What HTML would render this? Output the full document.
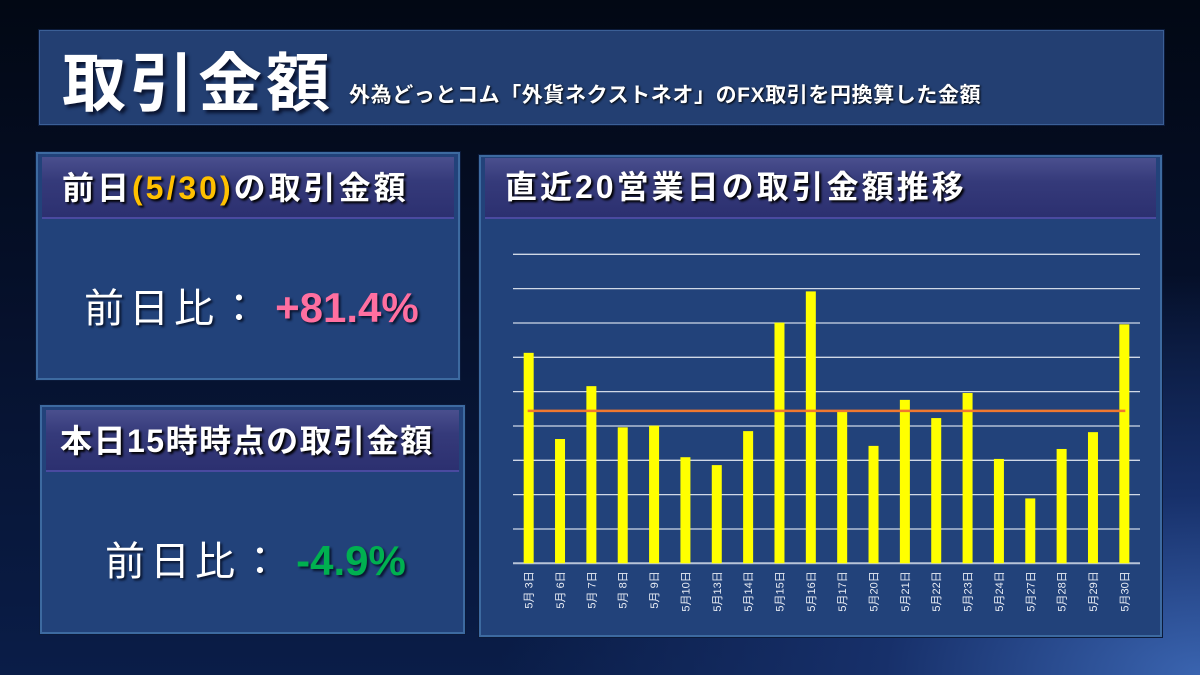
<!DOCTYPE html>
<html><head><meta charset="utf-8">
<style>
*{margin:0;padding:0;box-sizing:border-box}
body{width:1200px;height:675px;overflow:hidden;position:relative;font-family:"Liberation Sans","Noto Sans CJK JP",sans-serif;
background:radial-gradient(ellipse 700px 400px at 1200px 675px,#3a64b0 0%,#17306a 45%,rgba(5,15,40,0) 100%),linear-gradient(180deg,#020814 0%,#050f28 40%,#0a1d48 100%);}
.box{position:absolute;background:#22427a;border:2px solid #3d6aa0;box-shadow:0 0 0 1px #0b1a3a}
.hdr{position:absolute;left:4px;right:4px;top:3px;height:62px;background:linear-gradient(180deg,#4a4f8e 0%,#353a7a 40%,#2c3070 100%);border-bottom:2px solid #4a4aa0;color:#fff;font-weight:bold;text-shadow:2px 2px 2px #000;font-size:32px;line-height:62px;padding-left:20px;white-space:nowrap}
.val{position:absolute;color:#fff;font-size:40px;white-space:nowrap;text-shadow:2px 2px 2px #0a1630}
.lbl{letter-spacing:5px}
</style></head><body>
<div class="box" style="left:39px;top:30px;width:1125px;height:95px;background:#233f72;border:1px solid #3b5f96">
  <span style="position:absolute;left:22px;top:2px;font-size:64px;font-weight:bold;color:#fff;text-shadow:3px 3px 3px #0a1430;letter-spacing:4px">取引金額</span>
  <span style="position:absolute;left:309px;top:48px;font-size:21px;font-weight:bold;color:#fff;letter-spacing:0.6px;white-space:nowrap;text-shadow:1px 1px 2px #000">外為どっとコム「外貨ネクストネオ」のFX取引を円換算した金額</span>
</div>
<div class="box" style="left:36px;top:152px;width:424px;height:228px">
  <div class="hdr" style="letter-spacing:3px">前日<span style="color:#ffc000">(5/30)</span>の取引金額</div>
  <div class="val" style="left:46px;top:122px"><span class="lbl">前日比：</span> <b style="color:#ff6fa0;font-size:42px">+81.4%</b></div>
</div>
<div class="box" style="left:40px;top:405px;width:425px;height:229px">
  <div class="hdr" style="padding-left:14px;letter-spacing:1.5px">本日15時時点の取引金額</div>
  <div class="val" style="left:63px;top:122px"><span class="lbl">前日比：</span> <b style="color:#00b050;font-size:42px">-4.9%</b></div>
</div>
<div class="box" style="left:479px;top:155px;width:683px;height:482px">
  <div class="hdr" style="top:1px;height:61px;line-height:58px;letter-spacing:3px">直近20営業日の取引金額推移</div>
</div>
<svg id="chart" width="1200" height="675" style="position:absolute;left:0;top:0"></svg>
<script>
const categories=["5月 3日","5月 6日","5月 7日","5月 8日","5月 9日","5月10日","5月13日","5月14日","5月15日","5月16日","5月17日","5月20日","5月21日","5月22日","5月23日","5月24日","5月27日","5月28日","5月29日","5月30日"];
const volumes=[6.13,3.62,5.16,3.96,4.01,3.09,2.86,3.85,7.01,7.92,4.42,3.42,4.76,4.23,4.96,3.04,1.89,3.33,3.82,6.96];
const averageValue=[4.44];
const yTicks=[0,1,2,3,4,5,6,7,8,9];
const NS="http://www.w3.org/2000/svg";
const svg=document.getElementById('chart');
const x0=513,x1=1140,y0=563.3,yMax=9,y9=254.3;
const band=(x1-x0)/categories.length;
const xs=i=>x0+band*(i+0.5);
const ys=v=>y0-(y0-y9)*v/yMax;
function mk(t,a){const e=document.createElementNS(NS,t);for(const k in a)e.setAttribute(k,a[k]);svg.appendChild(e);return e;}
yTicks.forEach(t=>{const l=mk('line',{x1:x0,x2:x1,y1:ys(t),y2:ys(t),stroke:t===0?'#b8c4d8':'#d0d8e6','stroke-width':t===0?2:1.3});

});
volumes.forEach((v,i)=>{const r=mk('rect',{x:xs(i)-5,y:ys(v),width:10,height:y0-ys(v),fill:'#ffff00'});


const tx=mk('text',{x:0,y:0,transform:`translate(${xs(i)+4},${y0+8}) rotate(-90)`,'text-anchor':'end','font-size':11,fill:'#e8ecf4','font-family':'"Liberation Sans","Noto Sans CJK JP",sans-serif'});
tx.textContent=categories[i];

});
const avg=mk('line',{x1:xs(0)-1,x2:xs(categories.length-1)+1,y1:ys(averageValue[0]),y2:ys(averageValue[0]),stroke:'#f07830','stroke-width':2.5});


</script>
</body></html>
